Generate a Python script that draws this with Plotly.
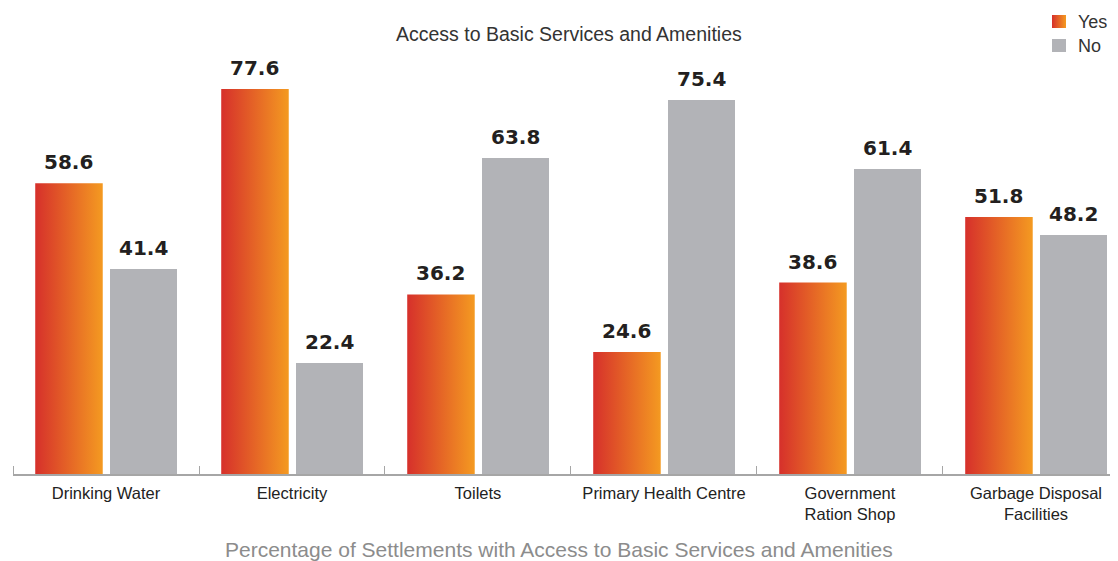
import plotly.graph_objects as go

categories = ["Drinking Water", "Electricity", "Toilets", "Primary Health Centre",
              "Government<br>Ration Shop", "Garbage Disposal<br>Facilities"]
yes_values = [58.6, 77.6, 36.2, 24.6, 38.6, 51.8]
no_values = [41.4, 22.4, 63.8, 75.4, 61.4, 48.2]
series_names = ["Yes", "No"]
chart_title = "Access to Basic Services and Amenities"
caption = "Percentage of Settlements with Access to Basic Services and Amenities"

YES_OFF = -0.199
NO_OFF = 0.202
BAR_W = 0.363
GRAD = [[0, "#d6302b"], [1, "#f49a21"]]
GREY = "#b2b3b7"
AXIS = "#a6a6a6"
FONT = "Liberation Sans"

fig = go.Figure()
for i, v in enumerate(yes_values):
    x0 = i + YES_OFF - BAR_W / 2
    x1 = i + YES_OFF + BAR_W / 2
    fig.add_trace(go.Scatter(
        x=[x0, x0, x1, x1, x0], y=[0, v, v, 0, 0],
        mode="lines", fill="toself", line=dict(width=0, color="#e5632a"),
        fillcolor="#e5632a",
        fillgradient=dict(type="horizontal", colorscale=GRAD, start=x0, stop=x1),
        name=series_names[0], showlegend=False, hoverinfo="skip"))

fig.add_trace(go.Bar(
    x=[i + NO_OFF for i in range(len(no_values))], y=no_values, width=BAR_W,
    marker=dict(color=GREY, line=dict(width=0)), name=series_names[1],
    showlegend=False))

# custom legend drawn on an overlay axis measured in page pixels
LEG_X0, LEG_X1 = 1052, 1066
LEG_ROWS = [(15, 28), (39, 52)]
for (ya, yb), name, grad in zip(LEG_ROWS, series_names, [True, False]):
    kw = dict(fillgradient=dict(type="horizontal", colorscale=GRAD,
                                start=LEG_X0, stop=LEG_X1)) if grad else {}
    fig.add_trace(go.Scatter(
        x=[LEG_X0, LEG_X0, LEG_X1, LEG_X1, LEG_X0], y=[yb, ya, ya, yb, yb],
        xaxis="x2", yaxis="y2", mode="lines", fill="toself",
        line=dict(width=0, color=GREY), fillcolor=GREY if not grad else "#e5632a",
        showlegend=False, hoverinfo="skip", **kw))

annotations = []
for i, (yv, nv) in enumerate(zip(yes_values, no_values)):
    for off, v in ((YES_OFF, yv), (NO_OFF, nv)):
        annotations.append(dict(
            x=i + off, y=v, xref="x", yref="y", text=f"{v}", showarrow=False,
            yshift=21, yanchor="middle",
            font=dict(family="DejaVu Sans", size=20, color="#231f20", weight="bold")))

for (ya, yb), name in zip(LEG_ROWS, series_names):
    annotations.append(dict(x=1076, y=(ya + yb) / 2, xref="x2", yref="y2", text=name,
                            showarrow=False, xanchor="left", yanchor="middle",
                            font=dict(family=FONT, size=18, color="#333333")))

annotations.append(dict(x=0.503, y=0.944, xref="paper", yref="paper",
                        text=chart_title, showarrow=False, yanchor="middle",
                        font=dict(family=FONT, size=19.5, color="#333333")))
annotations.append(dict(x=0.494, y=-0.162, xref="paper", yref="paper",
                        text=caption, showarrow=False, yanchor="middle",
                        font=dict(family=FONT, size=21, color="#8c8c8c")))

fig.update_layout(
    width=1110, height=553,
    margin=dict(l=5, r=0, t=0, b=87),
    paper_bgcolor="white", plot_bgcolor="white",
    font=dict(family=FONT, color="#222222"),
    showlegend=False,
    annotations=annotations,
    bargap=0,
    xaxis=dict(
        range=[-0.5, 5.441], tickmode="array", tickvals=list(range(len(categories))),
        ticktext=categories, ticks="", showline=True, linecolor=AXIS, linewidth=2,
        showgrid=False, zeroline=False, tickfont=dict(size=16.5, color="#222222"),
        ticklabelstandoff=3,
        minor=dict(tickmode="array", tickvals=[k - 0.5 for k in range(len(categories))],
                   ticks="inside", ticklen=8, tickcolor=AXIS, tickwidth=1,
                   showgrid=False),
    ),
    yaxis=dict(range=[0, 466 / 4.96], visible=False, showgrid=False, zeroline=False),
    xaxis2=dict(overlaying="x", range=[13, 1118], visible=False),
    yaxis2=dict(overlaying="y", range=[474, 8], visible=False),
)

fig.write_html("out.html")
